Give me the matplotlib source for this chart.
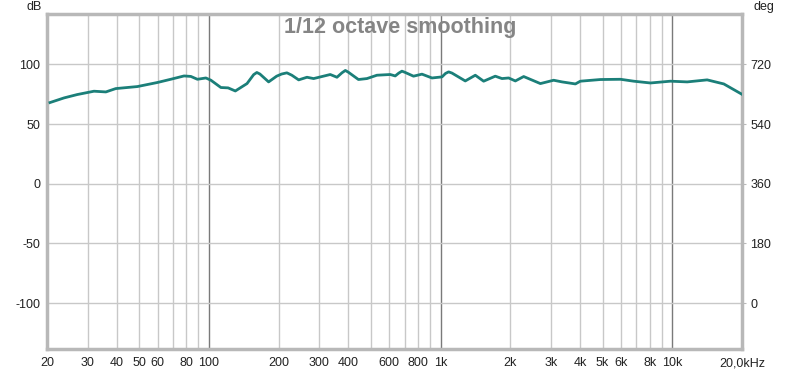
import numpy as np
import matplotlib
matplotlib.use('Agg')
import matplotlib.pyplot as plt
from matplotlib.ticker import FixedLocator, NullFormatter

plt.rcParams['font.family'] = ['Liberation Sans', 'DejaVu Sans']
plt.rcParams['axes.unicode_minus'] = False

# Measured response, 1/12 octave smoothing
freq = [20.6, 23.7, 27.0, 31.9, 35.9, 39.6, 49.1, 59.9, 68.4, 78.1, 83.5, 89.2,
        97, 102, 112.6, 121, 130, 146, 156, 161, 166, 181, 196, 206, 217, 228, 244, 265,
        283, 334, 357, 375, 388, 400, 442, 481, 531, 606, 637, 660, 681, 700, 764, 831,
        918, 1014, 1050, 1083, 1120, 1278, 1412, 1534, 1722, 1841, 1967, 2102, 2284, 2696,
        3076, 3344, 3818, 4012, 4896, 5976, 6818, 8050, 9822, 11598, 14148, 16690, 20000]
spl = [68.1, 72.0, 74.8, 77.6, 77.0, 79.8, 81.5, 84.9, 87.6, 90.4, 90.0, 87.6,
       88.7, 86.8, 80.7, 80.4, 77.8, 84.0, 91.5, 93.3, 92.0, 85.4, 90.2, 92.0, 93.0, 91.0, 87.1, 89.3,
       88.2, 91.6, 89.3, 93.0, 95.0, 93.5, 87.4, 88.2, 91.0, 91.6, 90.4, 92.8, 94.4, 93.5, 90.2, 91.9,
       88.7, 89.6, 92.5, 93.8, 92.8, 86.2, 91.0, 86.0, 90.2, 88.2, 88.7, 86.2, 89.9, 84.0,
       86.8, 85.4, 83.7, 86.0, 87.4, 87.6, 86.0, 84.5, 86.0, 85.4, 87.1, 83.7, 75.0]

x_ticks = [20, 30, 40, 50, 60, 80, 100, 200, 300, 400, 600, 800,
           1000, 2000, 3000, 4000, 5000, 6000, 8000, 10000, 20000]
x_labels = ['20', '30', '40', '50', '60', '80', '100', '200', '300', '400', '600', '800',
            '1k', '2k', '3k', '4k', '5k', '6k', '8k', '10k', '20,0kHz']
db_ticks = [-100, -50, 0, 50, 100]

fig = plt.figure(figsize=(8, 3.7), dpi=100)
ax = fig.add_axes([47 / 800, 21 / 370, 695 / 800, 335 / 370])

ax.set_xscale('log')
ax.set_xlim(20, 20000)
ax.set_ylim(-138.4, 142.3)

# grid: every log step light, decades darker
minor = [m * 10 ** e for e in range(1, 5) for m in range(1, 10) if 20 <= m * 10 ** e <= 20000]
for f in minor:
    dec = f in (100, 1000, 10000)
    ax.axvline(f, color='#7a7a7a' if dec else '#c8c8c8', lw=1, zorder=1)
for d in db_ticks:
    ax.axhline(d, color='#c8c8c8', lw=1, zorder=1)

ax.plot(freq, spl, color='#1b7f79', lw=2, zorder=3, solid_joinstyle='round')

ax.xaxis.set_major_locator(FixedLocator(x_ticks))
ax.xaxis.set_minor_formatter(NullFormatter())
ax.xaxis.set_minor_locator(FixedLocator([]))
ax.set_xticklabels(x_labels)
ax.set_yticks(db_ticks)
ax.tick_params(axis='both', length=0, labelsize=9, colors='#222222', pad=6)
ax.tick_params(axis='y', pad=5)

for s in ax.spines.values():
    s.set_color('#b8b8b8')
    s.set_linewidth(2.5)

sec = ax.secondary_yaxis('right', functions=(lambda d: (d + 100) * 3.6, lambda g: g / 3.6 - 100))
sec.set_yticks([0, 180, 360, 540, 720])
sec.tick_params(length=3, labelsize=9, colors='#222222', pad=3)
sec.tick_params(axis='y', color='#b8b8b8')
sec.spines['right'].set_visible(False)

fig.text(34 / 800, 1 - 7 / 370, 'dB', ha='center', va='center', fontsize=9, color='#222222')
fig.text(764 / 800, 1 - 7 / 370, 'deg', ha='center', va='center', fontsize=9, color='#222222')
ax.text(0.508, 0.99, '1/12 octave smoothing', transform=ax.transAxes, ha='center', va='top',
        fontsize=15.5, fontweight='bold', color='#858585')

fig.savefig('out.png', dpi=100)
